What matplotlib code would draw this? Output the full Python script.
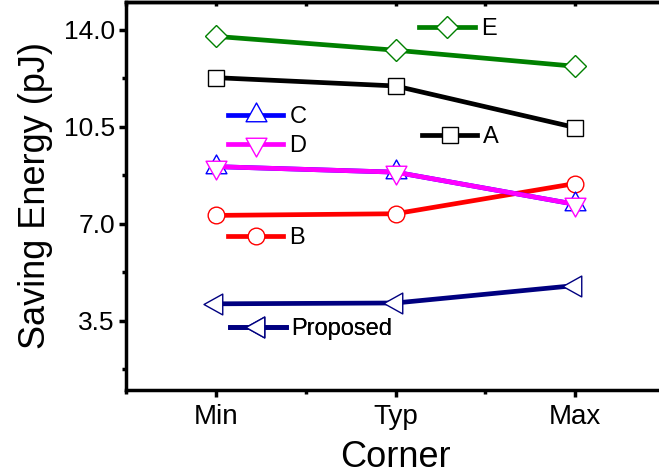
import matplotlib.pyplot as plt
from matplotlib.path import Path
from matplotlib.ticker import MultipleLocator, NullFormatter

plt.rcParams['font.family'] = ['Liberation Sans', 'DejaVu Sans']

corners = ['Min', 'Typ', 'Max']
x = [1, 2, 3]

# energy saved at each process corner, pJ
energy_a = [12.27, 11.97, 10.47]
energy_b = [7.30, 7.36, 8.45]
energy_c = [9.06, 8.86, 7.70]
energy_d = [9.06, 8.86, 7.70]
energy_e = [13.76, 13.26, 12.68]
energy_prop = [4.11, 4.14, 4.77]


# triangles centred on their centroid rather than on the bounding box
def tri(direction):
    pts = [(-1, -0.6), (1, -0.6), (0, 1.2)]
    if direction == 'down':
        pts = [(px, -py) for px, py in pts]
    elif direction == 'left':
        pts = [(-py, px) for px, py in pts]
    return Path(pts + [pts[0]], [Path.MOVETO, Path.LINETO, Path.LINETO, Path.CLOSEPOLY])


series = [
    ('A', energy_a, 'black', 's', 12),
    ('B', energy_b, 'red', 'o', 12),
    ('C', energy_c, 'blue', tri('up'), 18),
    ('D', energy_d, 'magenta', tri('down'), 18),
    ('E', energy_e, 'green', 'D', 11.5),
    ('Proposed', energy_prop, 'navy', tri('left'), 18),
]

# where each little legend sits (axes fraction, left edge / centre)
legend_pos = {
    'A': (0.549, 0.652),
    'B': (0.189, 0.392),
    'C': (0.189, 0.704),
    'D': (0.189, 0.629),
    'E': (0.544, 0.930),
    'Proposed': (0.193, 0.157),
}

fig = plt.figure(figsize=(6.59, 4.74), dpi=100)
ax = fig.add_axes([0.1912, 0.1772, 0.818, 0.8186])

handles = {}
for name, vals, col, mk, ms in series:
    ln, = ax.plot(x, vals, color=col, lw=3.4, marker=mk, ms=ms,
                  mfc='white', mec=col, mew=1)
    handles[name] = ln

for name, (lx, ly) in legend_pos.items():
    lg = ax.legend([handles[name]], [name], loc='center left',
                   bbox_to_anchor=(lx, ly), frameon=False, fontsize=17,
                   borderpad=0, borderaxespad=0, handlelength=2.35,
                   handletextpad=0.25, numpoints=1)
    ax.add_artist(lg)

ax.set_xlim(0.5, 3.5)
ax.set_ylim(1.0, 15.0)
ax.set_xticks(x)
ax.set_xticklabels(corners)
ax.xaxis.set_minor_locator(MultipleLocator(0.5))
ax.set_yticks([3.5, 7.0, 10.5, 14.0])
ax.set_yticklabels(['3.5', '7.0', '10.5', '14.0'])
ax.yaxis.set_minor_locator(MultipleLocator(1.75))

for sp in ax.spines.values():
    sp.set_linewidth(2.5)
ax.spines['right'].set_visible(False)

ax.tick_params(axis='both', which='major', labelsize=19, width=2.5,
               length=5, direction='out', pad=3)
ax.tick_params(axis='x', which='major', labelsize=20, pad=5)
ax.tick_params(axis='both', which='minor', width=2.5, length=3,
               direction='out')

# inward ticks along the top edge
top = ax.secondary_xaxis('top')
top.set_xticks(x)
top.xaxis.set_minor_locator(MultipleLocator(0.5))
top.xaxis.set_major_formatter(NullFormatter())
top.tick_params(which='both', direction='in', length=3, width=2.5)
top.spines['top'].set_linewidth(2.5)

ax.set_xlabel('Corner', fontsize=26, labelpad=7)
ax.set_ylabel('Saving Energy (pJ)', fontsize=26, labelpad=8)

fig.savefig('out.png', dpi=100)
